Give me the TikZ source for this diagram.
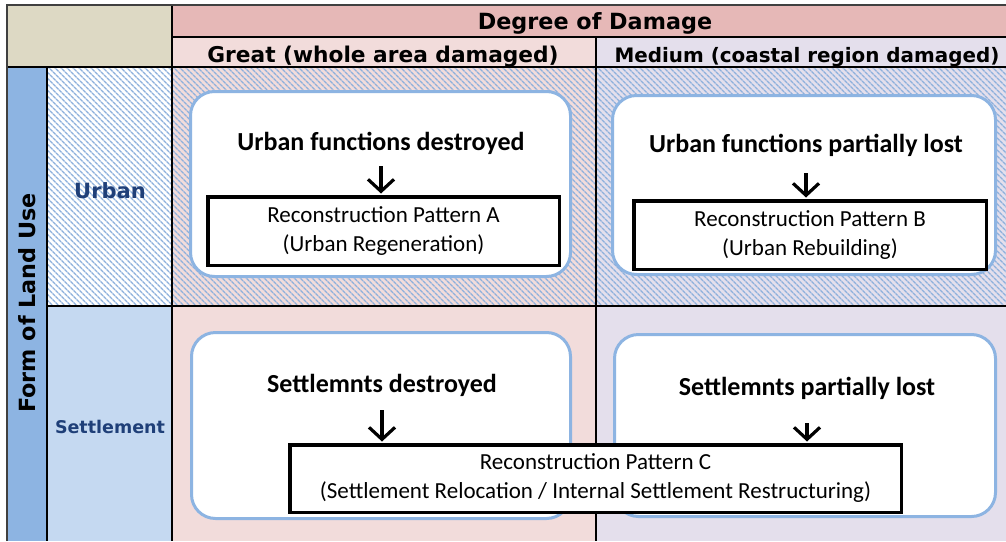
\documentclass[tikz,border=0pt]{standalone}
\usepackage{fontspec}
\setmainfont{Carlito}
\newfontfamily\gothic{DejaVu Sans}
\usetikzlibrary{positioning,arrows.meta,patterns.meta}

\definecolor{cornerkhaki}{HTML}{DDD9C4}
\definecolor{damagepink}{HTML}{E6B8B7}
\definecolor{greatpink}{HTML}{F2DCDB}
\definecolor{mediumlilac}{HTML}{E4DFEC}
\definecolor{landblue}{HTML}{8DB4E2}
\definecolor{settleblue}{HTML}{C5D9F1}
\definecolor{hatchblue}{HTML}{8DB0DC}
\definecolor{labelblue}{HTML}{1F3F78}

\begin{document}
\begin{tikzpicture}
  [
    x=1pt,y=-1pt,
    hatch/.style={pattern={Lines[angle=-45,distance=4pt,line width=1.6pt]},pattern color=hatchblue},
    rule/.style={draw=black,line width=1.2pt},
    colhead/.style={font=\gothic\bfseries\fontsize{22.3}{26}\selectfont,anchor=base,inner sep=0pt},
    rowhead/.style={font=\gothic\bfseries\fontsize{21}{24}\selectfont,text=labelblue,anchor=base,inner sep=0pt},
    panel/.style={draw=landblue,line width=3pt,fill=white,rounded corners=24pt},
    effect/.style={font=\bfseries\fontsize{26}{30}\selectfont,anchor=base,inner sep=0pt},
    patbox/.style={draw=black,line width=3.5pt,fill=white,align=center,
      font=\fontsize{23}{29}\selectfont,text=black},
    flow/.style={line width=3.2pt,-{Straight Barb[length=12pt,width=26pt]}},
  ]
  \useasboundingbox (0,0) rectangle (1006,541);

  % table cells
  \fill[cornerkhaki] (7,5) rectangle (172,67);
  \fill[damagepink] (172,5) rectangle (1006,37);
  \fill[greatpink] (172,37) rectangle (596,67);
  \fill[mediumlilac] (596,37) rectangle (1006,67);
  \fill[landblue] (7,67) rectangle (47,541);
  \fill[white] (47,67) rectangle (172,306);
  \fill[hatch] (47,67) rectangle (172,306);
  \fill[settleblue] (47,306) rectangle (172,541);
  \fill[greatpink] (172,67) rectangle (596,306);
  \fill[hatch] (172,67) rectangle (596,306);
  \fill[mediumlilac] (596,67) rectangle (1006,306);
  \fill[hatch] (596,67) rectangle (1006,306);
  \fill[greatpink] (172,306) rectangle (596,541);
  \fill[mediumlilac] (596,306) rectangle (1006,541);

  % rules
  \draw[rule] (172,37) -- (1006,37);
  \draw[rule] (7,67) -- (1006,67);
  \draw[rule] (47,306) -- (1006,306);
  \draw[rule] (47,67) -- (47,541);
  \draw[rule] (172,5) -- (172,541);
  \draw[rule] (596,37) -- (596,541);
  \draw[draw=black!75,line width=1.8pt] (7,541) -- (7,5) -- (1006,5);

  % headings
  \node (damage) at (595,29) [colhead] {Degree of Damage};
  \node (great) at (383,62) [colhead,font=\gothic\bfseries\fontsize{21.7}{24}\selectfont] {Great (whole area damaged)};
  \node (medium) at (807,62) [colhead,font=\gothic\bfseries\fontsize{19.9}{24}\selectfont] {Medium (coastal region damaged)};
  \node (landuse) at (27,303) [colhead,rotate=90,anchor=center] {Form of Land Use};
  \node (urban) at (110,198) [rowhead] {Urban};
  \node (settle) at (110,433) [rowhead,font=\gothic\bfseries\fontsize{17.5}{20}\selectfont] {Settlement};

  % panels
  \node (panelA) at (380.5,184) [panel,minimum width=380,minimum height=185] {};
  \node (panelB) at (804,185) [panel,minimum width=383,minimum height=179] {};
  \node (panelC) at (381,425.5) [panel,minimum width=379,minimum height=186] {};
  \node (panelD) at (805,425.5) [panel,minimum width=381,minimum height=182] {};

  \node (effA) at (381,150) [effect] {Urban functions destroyed};
  \node (effB) at (806,152) [effect] {Urban functions partially lost};
  \node (effC) at (382,392) [effect] {Settlemnts destroyed};
  \node (effD) at (807,395) [effect] {Settlemnts partially lost};

  \node (patA) at (383.5,231) [patbox,minimum width=351.5,minimum height=68.5]
    {Reconstruction Pattern A\\(Urban Regeneration)};
  \node (patB) at (810,235) [patbox,minimum width=352.5,minimum height=68.5]
    {Reconstruction Pattern B\\(Urban Rebuilding)};
  \node (patC) at (595.5,478.5) [patbox,minimum width=611.5,minimum height=67.5]
    {Reconstruction Pattern C\\(Settlement Relocation / Internal Settlement Restructuring)};

  % arrows
  \draw[flow,shorten <=16pt,shorten >=1.5pt] (effA.base) -- (effA.base |- patA.north);
  \draw[flow,shorten <=21pt,shorten >=1.5pt] (effB.base) -- (effB.base |- patB.north);
  \draw[flow,shorten <=18pt,shorten >=1.5pt] (effC.base) -- (effC.base |- patC.north);
  \draw[flow,shorten <=28pt,shorten >=1.5pt] (effD.base) -- (effD.base |- patC.north);
\end{tikzpicture}
\end{document}
